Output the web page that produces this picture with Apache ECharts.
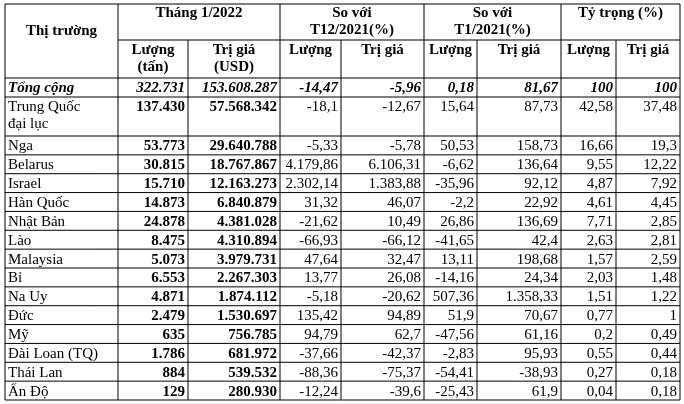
<!DOCTYPE html>
<html lang="vi">
<head>
<meta charset="UTF-8">
<title>Thị trường</title>
<script src="https://cdn.jsdelivr.net/npm/echarts@6/dist/echarts.min.js"></script>
</head>
<body style="margin:0;background:#fff">
<div id="main" style="width:684px;height:404px;"></div>
<script>
var markets = ['Trung Quốc\nđại lục','Nga','Belarus','Israel','Hàn Quốc','Nhật Bản','Lào','Malaysia','Bỉ','Na Uy','Đức','Mỹ','Đài Loan (TQ)','Thái Lan','Ấn Độ'];
var qty    = ['137.430','53.773','30.815','15.710','14.873','24.878','8.475','5.073','6.553','4.871','2.479','635','1.786','884','129'];
var value  = ['57.568.342','29.640.788','18.767.867','12.163.273','6.840.879','4.381.028','4.310.894','3.979.731','2.267.303','1.874.112','1.530.697','756.785','681.972','539.532','280.930'];
var qtyVsDec = ['-18,1','-5,33','4.179,86','2.302,14','31,32','-21,62','-66,93','47,64','13,77','-5,18','135,42','94,79','-37,66','-88,36','-12,24'];
var valVsDec = ['-12,67','-5,78','6.106,31','1.383,88','46,07','10,49','-66,12','32,47','26,08','-20,62','94,89','62,7','-42,37','-75,37','-39,6'];
var qtyVsJan = ['15,64','50,53','-6,62','-35,96','-2,2','26,86','-41,65','13,11','-14,16','507,36','51,9','-47,56','-2,83','-54,41','-25,43'];
var valVsJan = ['87,73','158,73','136,64','92,12','22,92','136,69','42,4','198,68','24,34','1.358,33','70,67','61,16','95,93','-38,93','61,9'];
var shareQty = ['42,58','16,66','9,55','4,87','4,61','7,71','2,63','1,57','2,03','1,51','0,77','0,2','0,55','0,27','0,04'];
var shareVal = ['37,48','19,3','12,22','7,92','4,45','2,85','2,81','2,59','1,48','1,22','1','0,49','0,44','0,18','0,18'];
var total = ['Tổng cộng','322.731','153.608.287','-14,47','-5,96','0,18','81,67','100','100'];

var colX = [5, 118, 188, 280, 341, 424, 477, 561, 616, 680];
var font = '"Liberation Serif", "Times New Roman", serif';
var g = [];
function line(x1, y1, x2, y2) {
    g.push({type: 'line', shape: {x1: x1, y1: y1, x2: x2, y2: y2}, style: {stroke: '#000', lineWidth: 1}});
}
function text(t, x, y, align, bold, italic) {
    g.push({type: 'text', x: x, y: y, style: {text: t, font: (italic ? 'italic ' : '') + (bold ? 'bold ' : '') + '15px ' + font,
        fill: '#000', align: align, verticalAlign: 'top', lineHeight: 17}});
}

var yTop = 4, yH1 = 40, yTot = 78, yTQ = 97, yNga = 136, yBot = 400;
var rowH = (yBot - yNga) / (markets.length - 1);
var rowsY = [yTot, yTQ];
for (var i = 0; i < markets.length; i++) rowsY.push(yNga + i * rowH);

line(colX[0], yTop, colX[9], yTop);
line(colX[1], yH1, colX[9], yH1);
rowsY.forEach(function (y) { line(colX[0], y, colX[9], y); });
colX.forEach(function (x, i) {
    var start = (i === 0 || i === 1 || i === 3 || i === 5 || i === 7 || i === 9) ? yTop : yH1;
    line(x, start, x, yBot);
});

text('Thị trường', (colX[0] + colX[1]) / 2, 23, 'center', true);
text('Tháng 1/2022', (colX[1] + colX[3]) / 2, 5, 'center', true);
text('So với\nT12/2021(%)', (colX[3] + colX[5]) / 2, 5, 'center', true);
text('So với\nT1/2021(%)', (colX[5] + colX[7]) / 2, 5, 'center', true);
text('Tỷ trọng (%)', (colX[7] + colX[9]) / 2, 5, 'center', true);
var sub = ['Lượng\n(tấn)', 'Trị giá\n(USD)', 'Lượng', 'Trị giá', 'Lượng', 'Trị giá', 'Lượng', 'Trị giá'];
sub.forEach(function (s, i) { text(s, (colX[i + 1] + colX[i + 2]) / 2, 42, 'center', true); });

total.forEach(function (t, i) {
    if (i === 0) text(t, colX[0] + 3, yTot + 2, 'left', true, true);
    else text(t, colX[i + 1] - 3, yTot + 2, 'right', true, true);
});

markets.forEach(function (m, r) {
    var y = rowsY[r + 1] + 2;
    var cells = [qty[r], value[r], qtyVsDec[r], valVsDec[r], qtyVsJan[r], valVsJan[r], shareQty[r], shareVal[r]];
    text(m, colX[0] + 3, y, 'left', false);
    cells.forEach(function (c, i) { text(c, colX[i + 2] - 3, y, 'right', i < 2); });
});

var myChart = echarts.init(document.getElementById('main'));
myChart.setOption({backgroundColor: '#fff', graphic: {elements: g}});
</script>
</body>
</html>
